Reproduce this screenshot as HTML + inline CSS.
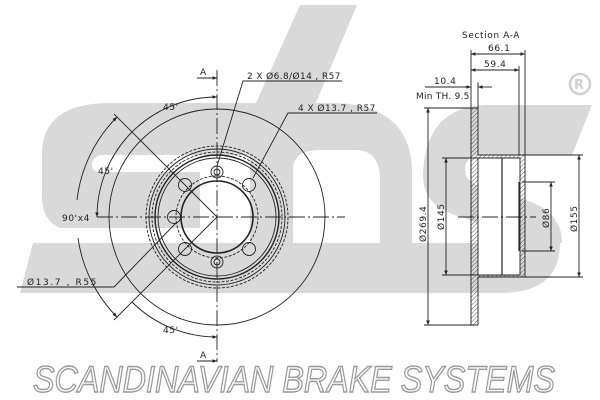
<!DOCTYPE html><html><head><style>body{margin:0;background:#fff;overflow:hidden}svg{display:block}text{font-family:"DejaVu Sans","Liberation Sans",sans-serif;fill:#222;letter-spacing:0.6px}</style></head><body>
<svg width="600" height="400" viewBox="0 0 600 400" xmlns="http://www.w3.org/2000/svg">
<defs>
<pattern id="h" width="3" height="3" patternUnits="userSpaceOnUse" patternTransform="rotate(45)"><line x1="0" y1="0" x2="0" y2="3" stroke="#333" stroke-width="0.8"/></pattern>
<marker id="a" viewBox="0 0 10 10" refX="10" refY="5" markerWidth="6" markerHeight="5" orient="auto-start-reverse"><path d="M0,1 L10,5 L0,9Z" fill="#222"/></marker>
</defs>
<g fill="#d9d9d9">
<path d="M300,5 L357,5 L312,112 L252,112 Z"/>
<path d="M42,150 Q45,103 110,103 L270,103 L270,155 L100,155 Q92,158 92,165 Q92,172 100,172 L200,172 L200,228 L60,228 Q40,220 42,190 Z"/>
<path d="M250,103 L330,103 Q410,103 412,170 L412,243 L250,243 Z"/>
<path d="M33,243 L560,243 Q560,293 500,293 L20,293 Z"/>
<path d="M423,175 Q425,105 490,105 L592,105 L572,155 L478,155 Q462,158 466,175 Q470,188 520,198 Q562,210 562,243 L500,243 Q490,225 455,215 Q423,205 423,175Z"/>
</g>
<g fill="#fff">
<path d="M293,170 Q293,150 320,150 L355,150 Q380,150 380,180 L380,243 L293,243 Z"/>
</g>
<g fill="none" stroke="#222" stroke-width="0.9">
<circle cx="217" cy="217" r="108" fill="none"/>
<circle cx="217" cy="217" r="71" stroke-dasharray="3,1.5"/>
<circle cx="217" cy="217" r="68"/>
<circle cx="217" cy="217" r="65" stroke-dasharray="3,1.5"/>
<circle cx="217" cy="217" r="62" stroke-width="1.4"/>
<circle cx="217" cy="217" r="59"/>
<circle cx="217" cy="217" r="41" stroke-dasharray="3,1.5"/>
<circle cx="217" cy="217" r="36" stroke-width="1.6"/>
<circle cx="185" cy="185" r="6.5"/><circle cx="249" cy="185" r="6.5"/><circle cx="185" cy="249" r="6.5"/><circle cx="249" cy="249" r="6.5"/>
<circle cx="174" cy="217" r="6.5"/>
<circle cx="217" cy="172" r="6"/><circle cx="217" cy="172" r="3"/>
<circle cx="217" cy="262" r="6"/><circle cx="217" cy="262" r="3"/>
<line x1="217" y1="70" x2="217" y2="362" stroke-dasharray="16,3,2,3"/>
<line x1="97" y1="217" x2="345" y2="217" stroke-dasharray="16,3,2,3"/>
<line x1="217" y1="217" x2="114" y2="114"/><line x1="217" y1="217" x2="114" y2="320"/>
<path d="M132,132 A120,120 0 0 1 217,97" marker-end="url(#a)"/>
<path d="M132,132 A120,120 0 0 0 97,217" marker-end="url(#a)"/>
<path d="M132,302 A120,120 0 0 0 217,337" marker-end="url(#a)"/>
<path d="M77,200 A141,141 0 0 1 117,117" marker-end="url(#a)"/>
<path d="M78,238 A141,141 0 0 0 117,317" marker-end="url(#a)"/>
<polyline points="217,166 243,81 342,81"/>
<polyline points="253,178 288,113 377,113"/>
<polyline points="176,223 114,287 17,287"/>
<line x1="197" y1="78" x2="217" y2="78" marker-end="url(#a)"/>
<line x1="197" y1="361" x2="217" y2="361" marker-end="url(#a)"/>
</g>
<g font-size="9">
<text x="200" y="75">A</text>
<text x="200" y="358">A</text>
<text x="247" y="79" textLength="94">2 X Ø6.8/Ø14 , R57</text>
<text x="298" y="111" textLength="78">4 X Ø13.7 , R57</text>
<text x="27" y="285" textLength="70">Ø13.7 , R55</text>
<text x="163" y="110">45'</text>
<text x="98" y="174">45'</text>
<text x="62" y="221">90'x4</text>
<text x="163" y="333">45'</text>
</g>
<g fill="none" stroke="#222" stroke-width="0.9">
<path d="M471,108 L478,108 L478,155 L525,155 L525,277 L478,277 L478,325 L471,325 Z" fill="url(#h)"/>
<path d="M478,158 L520,158 L520,275 L478,275 Z" fill="#fff"/>
<line x1="471" y1="158" x2="471" y2="275" stroke-dasharray="4,1.5"/>
<line x1="502" y1="158" x2="502" y2="275" stroke-width="1.2"/>
<line x1="519" y1="182" x2="519" y2="251" stroke-width="1.2"/>
<line x1="522" y1="182" x2="555" y2="182"/><line x1="522" y1="251" x2="555" y2="251"/>
<line x1="551" y1="182" x2="551" y2="251" marker-start="url(#a)" marker-end="url(#a)"/>
<line x1="525" y1="155" x2="583" y2="155"/><line x1="525" y1="277" x2="583" y2="277"/>
<line x1="579" y1="155" x2="579" y2="277" marker-start="url(#a)" marker-end="url(#a)"/>
<line x1="442" y1="158" x2="478" y2="158"/><line x1="442" y1="275" x2="478" y2="275"/>
<line x1="446" y1="158" x2="446" y2="275" marker-start="url(#a)" marker-end="url(#a)"/>
<line x1="424" y1="108" x2="471" y2="108"/><line x1="424" y1="325" x2="471" y2="325"/>
<line x1="428" y1="108" x2="428" y2="325" marker-start="url(#a)" marker-end="url(#a)"/>
<line x1="458" y1="217" x2="536" y2="217" stroke-dasharray="16,3,2,3"/>
<line x1="471" y1="50" x2="471" y2="108"/><line x1="525" y1="50" x2="525" y2="155"/>
<line x1="519" y1="66" x2="519" y2="155"/>
<line x1="471" y1="54" x2="525" y2="54" marker-start="url(#a)" marker-end="url(#a)"/>
<line x1="471" y1="70" x2="519" y2="70" marker-start="url(#a)" marker-end="url(#a)"/>
<line x1="478" y1="82" x2="478" y2="108"/>
<line x1="425" y1="87" x2="471" y2="87" marker-end="url(#a)"/>
<line x1="492" y1="87" x2="478" y2="87" marker-end="url(#a)"/>
</g>
<g font-size="9">
<text x="462" y="38">Section A-A</text>
<text x="488" y="51">66.1</text>
<text x="484" y="67">59.4</text>
<text x="434" y="84">10.4</text>
<text x="416" y="99" textLength="54">Min TH. 9.5</text>
<text transform="translate(426,242) rotate(-90)">Ø269.4</text>
<text transform="translate(444,230) rotate(-90)">Ø145</text>
<text transform="translate(549,228) rotate(-90)">Ø86</text>
<text transform="translate(577,232) rotate(-90)">Ø155</text>
</g>
<circle cx="580" cy="84" r="10" fill="none" stroke="#d0d0d0" stroke-width="2.5"/>
<text x="574" y="89" font-size="13" style="fill:#d0d0d0;font-weight:bold;letter-spacing:0">R</text>
<text x="33" y="392" font-size="37" font-style="italic" style="fill:#fff;stroke:#9a9a9a;stroke-width:1.4;font-family:'Liberation Sans',sans-serif;letter-spacing:0" textLength="522" lengthAdjust="spacingAndGlyphs">SCANDINAVIAN BRAKE SYSTEMS</text>
</svg></body></html>
